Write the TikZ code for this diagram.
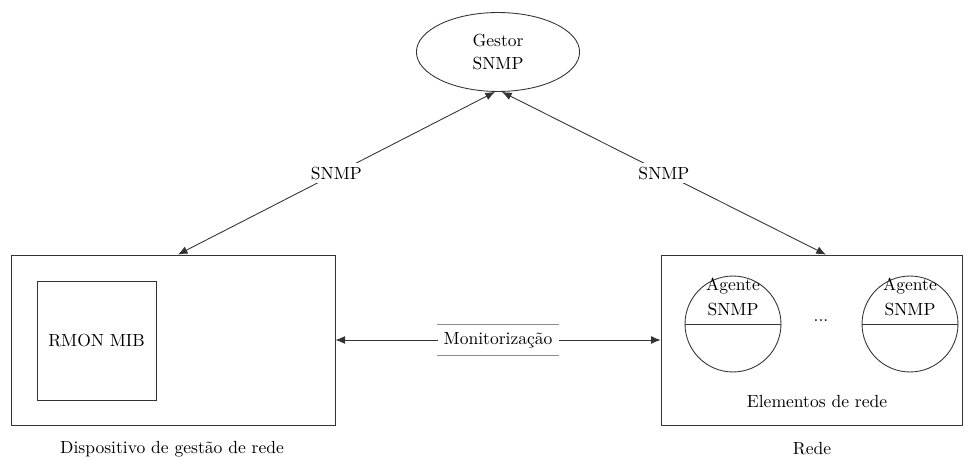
\documentclass[tikz,border=0pt]{standalone}
\usetikzlibrary{shapes.geometric,arrows.meta,calc}
\begin{document}
\begin{tikzpicture}[x=0.57pt,y=-0.57pt,
  line/.style={draw=black!80,line width=0.5pt},
  conn/.style={line,{Latex[length=5.5pt,width=4.5pt]}-{Latex[length=5.5pt,width=4.5pt]}},
  plain/.style={inner sep=1pt,align=center,font=\normalsize},
  agent/.style={circle,line,minimum size=54.7pt,inner sep=0pt}]
\useasboundingbox (0,0) rectangle (974,461);

% manager
\node[ellipse,line,minimum width=93pt,minimum height=45pt,align=center] (gestor) at (498,52) {Gestor\\[1.5pt]SNMP};

% management device
\node[rectangle,line,minimum width=184.7pt,minimum height=96.9pt] (lbox) at (173,340) {};
\node[rectangle,line,minimum width=67.8pt,minimum height=67.8pt] (rmon) at (96.5,340.5) {RMON MIB};
\node[plain] (ldev) at (172,449) {Dispositivo de gestão de rede};

% network
\node[rectangle,line,minimum width=172pt,minimum height=96.9pt] (rbox) at (812,340) {};
\node[agent] (ag1) at (733,324) {};
\node[agent] (ag2) at (910,324) {};
\draw[line] (ag1.west) -- (ag1.east);
\draw[line] (ag2.west) -- (ag2.east);
\node[plain] (ag1t) at (733,297) {Agente\\[2pt]SNMP};
\node[plain] (ag2t) at (910,297) {Agente\\[2pt]SNMP};
\node[plain] (dots) at (821,321) {...};
\node[plain] (elem) at (817,402) {Elementos de rede};
\node[plain] (rede) at (812,449) {Rede};

% SNMP links
\coordinate (gl) at ($(gestor.south)+(-3,0)$);
\coordinate (gr) at ($(gestor.south)+(4,0)$);
\coordinate (lt) at ($(lbox.north west)!0.515!(lbox.north east)$);
\coordinate (rt) at ($(rbox.north west)!0.546!(rbox.north east)$);
\draw[conn] (lt) -- node[fill=white,plain,inner sep=2pt] (s1) {SNMP} (gl);
\draw[conn] (gr) -- node[fill=white,plain,inner sep=2pt] (s2) {SNMP} (rt);

% monitoring link
\draw[conn] (lbox.east) -- node[fill=white,minimum width=69pt,minimum height=17.5pt,inner sep=0pt] (mon) {Monitorização} (rbox.west);
\draw[draw=black!45,line width=0.5pt] (mon.north west) -- (mon.north east);
\draw[draw=black!45,line width=0.5pt] (mon.south west) -- (mon.south east);
\end{tikzpicture}
\end{document}
